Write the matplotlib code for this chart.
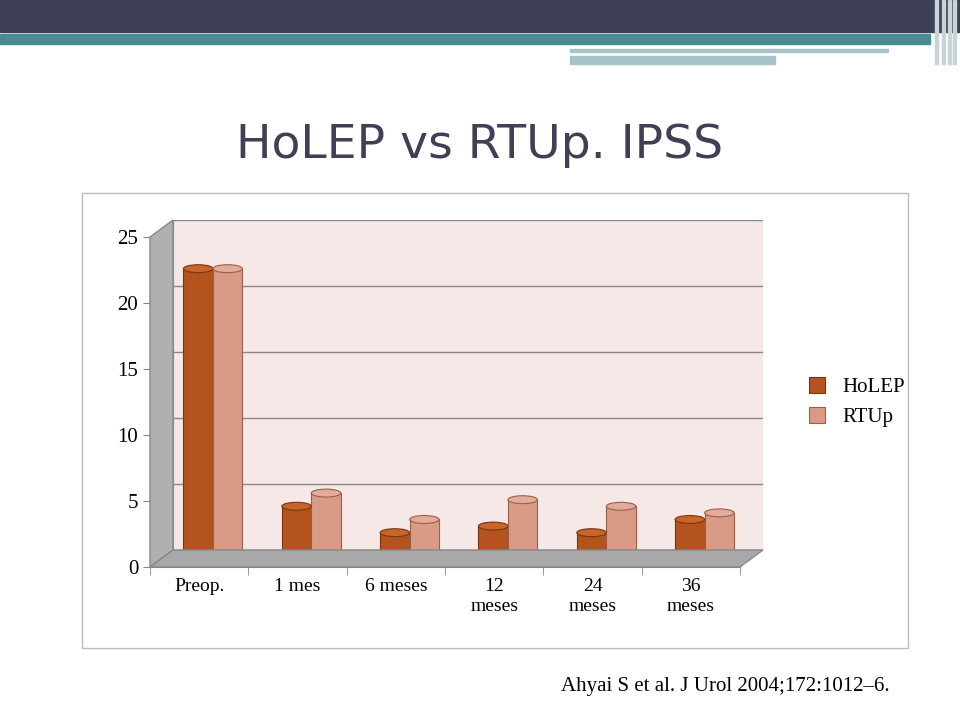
import matplotlib
matplotlib.use("Agg")
import matplotlib.pyplot as plt
from matplotlib.patches import Ellipse, Rectangle, Polygon
import numpy as np

categories = ["Preop.", "1 mes", "6 meses", "12\nmeses", "24\nmeses", "36\nmeses"]
holep = [22, 4, 2, 2.5, 2, 3]
rtup = [22, 5, 3, 4.5, 4, 3.5]
yticks = [0, 5, 10, 15, 20, 25]

W, H = 960, 720
fig = plt.figure(figsize=(9.6, 7.2), dpi=100)
fig.patch.set_facecolor("white")

def fx(px): return px / W
def fy(py): return 1 - py / H

# top decoration
fig.patches.append(Rectangle((0, fy(32)), 1, 32 / H, transform=fig.transFigure, color="#3f3f55"))
fig.patches.append(Rectangle((0, fy(44)), fx(930), 10 / H, transform=fig.transFigure, color="#4a8b93"))
fig.patches.append(Rectangle((fx(570), fy(64)), fx(205), 8 / H, transform=fig.transFigure, color="#a6c2c6"))
fig.patches.append(Rectangle((fx(570), fy(52)), fx(318), 3 / H, transform=fig.transFigure, color="#a6c2c6"))
for i, xx in enumerate([935, 942, 948, 953]):
    fig.patches.append(Rectangle((fx(xx), fy(64)), 3 / W, 64 / H, transform=fig.transFigure, color="#c8d4d6"))

fig.text(0.5, fy(145), "HoLEP vs RTUp. IPSS", ha="center", va="center", fontsize=34,
         color="#3f3f55", family="DejaVu Sans")

# chart frame
fig.patches.append(Rectangle((fx(82), fy(648)), fx(908 - 82), (648 - 193) / H,
                             transform=fig.transFigure, fill=False, ec="#bbbbbb", lw=1))

L, R, B, T = 150, 740, 567, 237
dx, dy = 23, 17
# back wall axes
wall = fig.add_axes([fx(L + dx), fy(B - dy), fx(R - L), (B - T) / H])
wall.set_facecolor("#f5e8e6")
wall.set_ylim(0, 25)
wall.set_yticks(yticks)
wall.set_xticks([])
wall.tick_params(left=False, labelleft=False)
wall.grid(axis="y", color="#888888", lw=1)
for s in wall.spines.values():
    s.set_visible(False)
wall.spines["left"].set_visible(True); wall.spines["left"].set_color("#888888")
wall.set_axisbelow(True)

# left side wall and floor
fig.patches.append(Polygon([(fx(L), fy(B)), (fx(L + dx), fy(B - dy)), (fx(L + dx), fy(T - dy)),
                            (fx(L), fy(T))], closed=True, transform=fig.transFigure,
                           fc="#b0b0b0", ec="#888888"))
fig.patches.append(Polygon([(fx(L), fy(B)), (fx(L + dx), fy(B - dy)), (fx(R + dx), fy(B - dy)),
                            (fx(R), fy(B))], closed=True, transform=fig.transFigure,
                           fc="#a8a8a8", ec="#888888", zorder=1))

ax = fig.add_axes([fx(L), fy(B), fx(R - L), (B - T) / H])
ax.patch.set_alpha(0)
ax.set_ylim(0, 25)
ax.set_xlim(0, 6)
ax.set_yticks(yticks)
ax.set_yticklabels([str(t) for t in yticks], family="Liberation Serif", fontsize=15)
ax.set_xticks(np.arange(0.5, 6, 1))
ax.set_xticklabels(categories, family="Liberation Serif", fontsize=14, va="top")
ax.tick_params(axis="x", length=0, pad=8)
ax.tick_params(axis="y", length=5, color="#888888")
ax.set_xticks(np.arange(0, 7, 1), minor=True)
ax.tick_params(axis="x", which="minor", length=6, color="#888888")
for s in ["top", "right"]:
    ax.spines[s].set_visible(False)
ax.spines["left"].set_color("#888888")
ax.spines["bottom"].set_color("#888888")

bw = 0.3
ell_h = 0.6
off = 0.6  # y-offset to sit bars in middle of the floor depth
xo = 0.14
def cyl(x, v, c_main, c_dark, c_top, label=None):
    ax.bar(x, v, width=bw, bottom=off, color=c_main, edgecolor=c_dark, lw=0.8, zorder=3, label=label)
    ax.add_patch(Ellipse((x, off), bw, ell_h, fc=c_main, ec=c_dark, lw=0.8, zorder=2))
    ax.add_patch(Ellipse((x, v + off), bw, ell_h, fc=c_top, ec=c_dark, lw=0.8, zorder=4))

for i in range(6):
    cyl(i + 0.5 - 0.15 + xo, holep[i], "#b5531f", "#7a3510", "#c8652d", "HoLEP" if i == 0 else None)
    cyl(i + 0.5 + 0.15 + xo, rtup[i], "#d99a86", "#9a5f4c", "#e3ab99", "RTUp" if i == 0 else None)

ax.legend(loc="center left", bbox_to_anchor=(fx(790 - L) / fx(R - L), 0.5), frameon=False,
          prop={"family": "Liberation Serif", "size": 15}, handlelength=0.8, handleheight=0.8)

fig.text(fx(890), fy(686), "Ahyai S et al. J Urol 2004;172:1012\u20136.", ha="right", va="center",
         fontsize=15, family="Liberation Serif")

fig.savefig("out.png", dpi=100)
